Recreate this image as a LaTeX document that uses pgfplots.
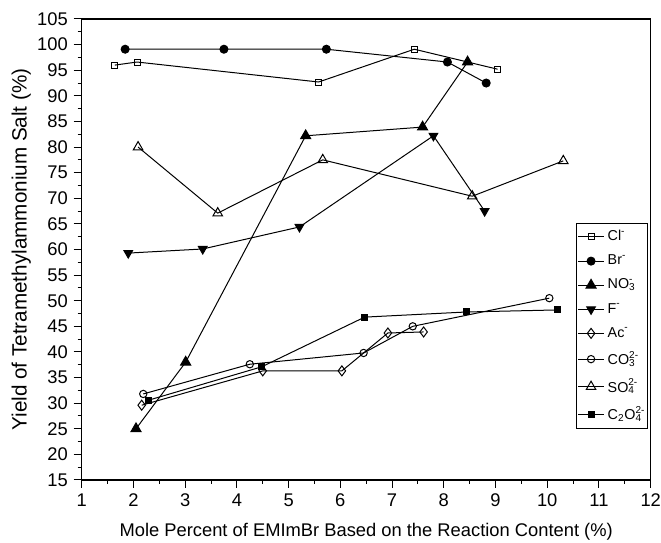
\documentclass[border=0pt]{standalone}
\usepackage{fontspec}
\setmainfont{Liberation Sans}
\usepackage{pgfplots}
\pgfplotsset{compat=1.18}
\newcommand\ion[2]{\rlap{\textsuperscript{#1}}\textsubscript{#2}}
\newcommand\fs{\fontsize{11}{13}\selectfont}
\newcommand\fl{\fontsize{8.6}{10}\selectfont}

\begin{document}
\begin{tikzpicture}
\useasboundingbox (-49.02pt,-37.8pt) rectangle (347.58pt,288pt);
\begin{axis}[
    scale only axis,
    width=341.4pt,
    height=276.6pt,
    xmin=1, xmax=12,
    ymin=15, ymax=105,
    xtick={1,2,...,12},
    ytick={15,20,...,105},
    minor x tick num=1,
    minor y tick num=1,
    tick pos=left,
    tick align=outside,
    major tick length=4.8pt,
    minor tick length=2.4pt,
    axis line style={line width=0.7pt},
    every tick/.style={black, line width=0.6pt},
    /pgf/number format/assume math mode=true,
    tick label style={font=\fs},
    xlabel={Mole Percent of EMImBr Based on the Reaction Content (\%)},
    ylabel={Yield of Tetramethylammonium Salt (\%)},
    xlabel style={font=\fs, at={(axis description cs:0.5,-0.113)}, anchor=center},
    ylabel style={font=\fontsize{12.4}{14}\selectfont, at={(axis description cs:-0.106,0.5)}, anchor=center},
    legend style={font=\fl, at={(0.868,0.557)}, anchor=north west,
        draw=black, line width=0.6pt, row sep=3pt, inner sep=2pt,
        inner xsep=1pt},
    legend image code/.code={%
        \draw[mark repeat=2, mark phase=2] plot coordinates {(0cm,0cm) (0.27cm,0cm) (0.54cm,0cm)};},
    legend cell align=left,
    every axis plot/.append style={black, line width=0.6pt},
]
\addplot[mark=square, mark size=1.8pt, mark options={fill=white}] coordinates {
    (1.64,96.0) (2.07,96.6) (5.58,92.7) (7.43,99.1) (9.04,95.2)
};
\addlegendentry{Cl\ion{-}{}}
\addplot[mark=*, mark size=2.4pt] coordinates {
    (1.84,99.1) (3.75,99.1) (5.73,99.1) (8.07,96.6) (8.82,92.5)
};
\addlegendentry{Br\ion{-}{}}
\addplot[mark=triangle*, mark size=3.5pt] coordinates {
    (2.05,25.0) (3.01,38.0) (5.33,82.2) (7.59,83.9) (8.46,96.6)
};
\addlegendentry{NO\ion{-}{3}}
\addplot[mark=triangle*, mark size=3pt, mark options={rotate=180}] coordinates {
    (1.90,59.3) (3.34,60.1) (5.21,64.4) (7.80,82.2) (8.79,67.5)
};
\addlegendentry{F\ion{-}{}}
\addplot[mark=diamond, mark size=3pt, mark options={fill=white}] coordinates {
    (2.16,29.6) (4.50,36.3) (6.03,36.3) (6.92,43.7) (7.61,43.9)
};
\addlegendentry{Ac\ion{-}{}}
\addplot[mark=o, mark size=2.2pt, mark options={fill=white}] coordinates {
    (2.19,31.8) (4.25,37.6) (6.45,39.8) (7.40,45.0) (10.04,50.5)
};
\addlegendentry{CO\ion{2-}{3}}
\addplot[mark=triangle, mark size=3.3pt, mark options={fill=white}] coordinates {
    (2.09,80.0) (3.63,67.1) (5.66,77.5) (8.55,70.4) (10.31,77.3)
};
\addlegendentry{SO\ion{2-}{4}}
\addplot[mark=square*, mark size=1.8pt] coordinates {
    (2.30,30.6) (4.48,37.1) (6.47,46.8) (8.44,47.8) (10.20,48.2)
};
\addlegendentry{C\textsubscript{2}O\ion{2-}{4}}
\end{axis}
\end{tikzpicture}
\end{document}
